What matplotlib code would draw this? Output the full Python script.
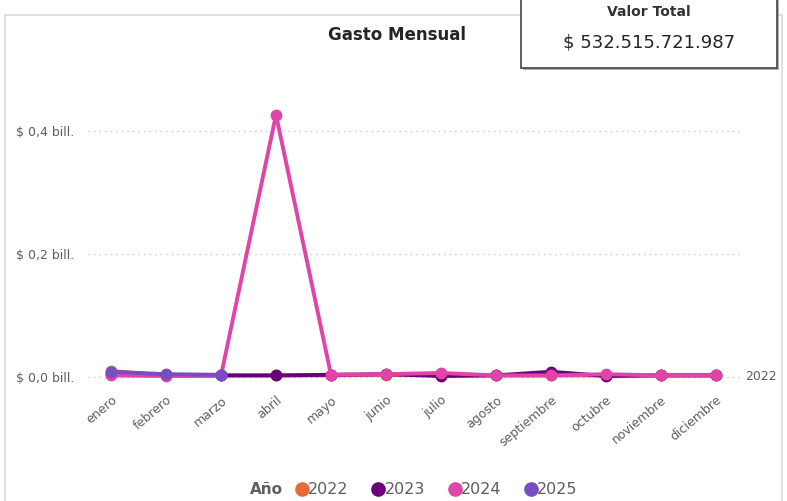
import numpy as np
import matplotlib.pyplot as plt
from matplotlib.patches import Rectangle

meses = ['enero', 'febrero', 'marzo', 'abril', 'mayo', 'junio', 'julio',
         'agosto', 'septiembre', 'octubre', 'noviembre', 'diciembre']

# gasto mensual en billones de pesos
g2022 = [0.009, 0.002, 0.002, 0.002, 0.002, 0.003, 0.003, 0.002, 0.002, 0.002, 0.002, 0.002]
g2023 = [0.005, 0.002, 0.002, 0.002, 0.003, 0.004, 0.001, 0.002, 0.008, 0.001, 0.002, 0.002]
g2024 = [0.002, 0.001, 0.002, 0.427, 0.003, 0.004, 0.006, 0.002, 0.002, 0.004, 0.002, 0.002]
g2025 = [0.008, 0.004, 0.003, np.nan, np.nan, np.nan, np.nan, np.nan, np.nan, np.nan, np.nan, np.nan]

anios = ['2022', '2023', '2024', '2025']
colores = ['#E66C37', '#6B007B', '#E044A7', '#744EC2']
yticks = [0.0, 0.2, 0.4]
ytick_labels = ['$ 0,0 bill.', '$ 0,2 bill.', '$ 0,4 bill.']
valor_total = '$ 532.515.721.987'

W, H = 787, 501
fig = plt.figure(figsize=(W / 100, H / 100), dpi=100)

# marco del visual
fig.patches.append(Rectangle((5 / W, -0.05), 777 / W, 1.05 - 15 / H,
                             transform=fig.transFigure, fill=False,
                             edgecolor='#d9d9d9', linewidth=1.2))

ax = fig.add_axes([88 / W, 1 - 384 / H, (740 - 88) / W, (384 - 70) / H])
x = np.arange(len(meses))
series = [g2022, g2023, g2024, g2025]
for vals, anio, col in zip(series, anios, colores):
    ax.plot(x, vals, color=col, linewidth=2.8, marker='o', markersize=7.5,
            label=anio, zorder=3)

ax.set_xlim(-0.42, 11.44)
ax.set_ylim(-0.012, 0.5)
ax.set_yticks(yticks)
ax.set_yticklabels(ytick_labels, color='#605e5c', fontsize=9)
ax.set_xticks(x)
ax.set_xticklabels(meses, rotation=40, ha='right', rotation_mode='anchor',
                   color='#605e5c', fontsize=9)
ax.tick_params(length=0, pad=7)
ax.tick_params(axis='y', pad=10)
for yv in yticks:
    ax.axhline(yv, color='#c8c6c4', linestyle=(0, (1, 3)), linewidth=1, zorder=1)
for s in ax.spines.values():
    s.set_visible(False)
ax.patch.set_alpha(0)

ax.text(1.008, 0.0, '2022', transform=ax.get_yaxis_transform(),
        ha='left', va='center', fontsize=9, color='#605e5c')

fig.text(397 / W, 1 - 35 / H, 'Gasto Mensual', ha='center', va='center',
         fontsize=12, fontweight='bold', color='#252423')

# leyenda
fig.text(250 / W, 1 - 490 / H, 'Año', ha='left', va='center',
         fontsize=11, fontweight='bold', color='#605e5c')
leg = ax.legend(loc='center left', bbox_to_anchor=(297 / W, 1 - 490 / H),
                bbox_transform=fig.transFigure, ncol=4, frameon=False,
                handlelength=0.6, handletextpad=0.1, borderaxespad=0,
                borderpad=0, columnspacing=1.55, fontsize=11.5)
for h in leg.legend_handles:
    h.set_linestyle('')
    h.set_markersize(9.5)
for t in leg.get_texts():
    t.set_color('#605e5c')

# tarjeta con valor total
fig.patches.append(Rectangle((523 / W, 1 - 70 / H), 256 / W, 80 / H,
                             transform=fig.transFigure, facecolor='#666666',
                             edgecolor='none', alpha=0.5, zorder=4))
fig.patches.append(Rectangle((521 / W, 1 - 68 / H), 256 / W, 80 / H,
                             transform=fig.transFigure, facecolor='white',
                             edgecolor='#444444', linewidth=1.2, zorder=5))
fig.text(649 / W, 1 - 12 / H, 'Valor Total', ha='center', va='center',
         fontsize=10, fontweight='bold', color='#333333', zorder=6)
fig.text(649 / W, 1 - 43 / H, valor_total, ha='center', va='center',
         fontsize=13, color='#252423', zorder=6)

fig.savefig('out.png', dpi=100)
